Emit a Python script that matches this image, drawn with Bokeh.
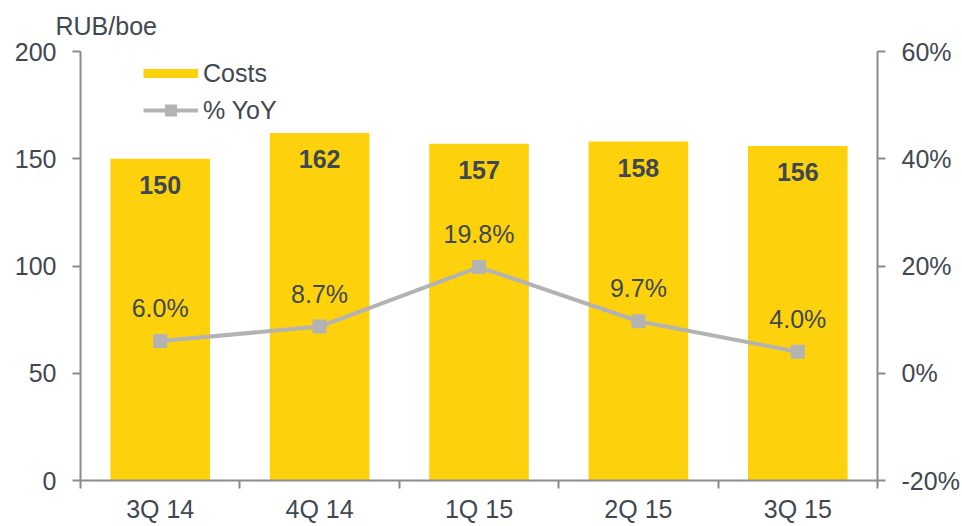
from bokeh.plotting import figure
from bokeh.models import Range1d, LinearAxis, FixedTicker, Legend, LegendItem, ColumnDataSource
from bokeh.core.properties import value
from bokeh.embed import file_html
from bokeh.resources import INLINE

categories = ["3Q 14", "4Q 14", "1Q 15", "2Q 15", "3Q 15"]
costs = [150, 162, 157, 158, 156]
yoy = [6.0, 8.7, 19.8, 9.7, 4.0]
left_ticks = [0, 50, 100, 150, 200]
right_ticks = [-20, 0, 20, 40, 60]
unit_label = "RUB/boe"

YELLOW = "#FDD20C"
GRAY = "#B3B3B3"
TEXT = "#3F4850"
AXIS = "#8C8C8C"
FONT = "Liberation Sans"
FS = "25px"

xs = [i + 0.5 for i in range(len(categories))]
src = ColumnDataSource(dict(
    x=xs, costs=costs, yoy=yoy,
    clab=[str(c) for c in costs],
    ylab=[f"{v:.1f}%" for v in yoy],
))

p = figure(width=962, height=525, x_range=Range1d(0, len(categories)), y_range=Range1d(0, 200),
           output_backend="svg", toolbar_location=None,
           min_border_left=80, min_border_right=82, min_border_top=51, min_border_bottom=44)
p.extra_y_ranges = {"pct": Range1d(-20, 60)}
p.outline_line_color = None
p.xgrid.visible = False
p.ygrid.visible = False

p.title.text = unit_label
p.title.text_font = FONT
p.title.text_font_size = FS
p.title.text_font_style = "normal"
p.title.text_color = TEXT
p.title.align = "left"
p.title.offset = -25
p.title.standoff = 20
p.title.vertical_align = "top"

# x axis
xa = p.xaxis[0]
xa.ticker = FixedTicker(ticks=xs, minor_ticks=list(range(len(categories) + 1)))
xa.major_label_overrides = {x: c for x, c in zip(xs, categories)}
xa.major_tick_line_color = None
xa.major_tick_out = 8
xa.minor_tick_line_color = AXIS
xa.minor_tick_line_width = 2
xa.minor_tick_out = 8
xa.minor_tick_in = 0
xa.axis_line_color = AXIS
xa.axis_line_width = 2
xa.major_label_text_font = FONT
xa.major_label_text_font_size = FS
xa.major_label_text_color = TEXT
xa.major_label_standoff = 6

# left axis
ya = p.yaxis[0]
ya.ticker = FixedTicker(ticks=left_ticks)
ya.axis_line_color = AXIS
ya.axis_line_width = 2
ya.major_tick_line_color = AXIS
ya.major_tick_line_width = 2
ya.major_tick_out = 8
ya.major_tick_in = 0
ya.minor_tick_line_color = None
ya.major_label_text_font = FONT
ya.major_label_text_font_size = FS
ya.major_label_text_color = TEXT
ya.major_label_standoff = 16

# right axis
ra = LinearAxis(y_range_name="pct", ticker=FixedTicker(ticks=right_ticks),
                major_label_overrides={t: f"{t}%" for t in right_ticks})
ra.axis_line_color = AXIS
ra.axis_line_width = 2
ra.major_tick_line_color = AXIS
ra.major_tick_line_width = 2
ra.major_tick_out = 8
ra.major_tick_in = 0
ra.minor_tick_line_color = None
ra.major_label_text_font = FONT
ra.major_label_text_font_size = FS
ra.major_label_text_color = TEXT
ra.major_label_standoff = 16
p.add_layout(ra, "right")

p.vbar(x="x", top="costs", width=0.625, source=src, fill_color=YELLOW, line_color=None)
r_line = p.line(x="x", y="yoy", source=src, y_range_name="pct", line_color=GRAY, line_width=4)
r_sc = p.scatter(x="x", y="yoy", source=src, y_range_name="pct", marker="square", size=14,
                 fill_color=GRAY, line_color=None)

p.text(x="x", y="costs", text="clab", source=src, text_align="center", text_baseline="middle",
       y_offset=26, text_font=value(FONT), text_font_size=FS, text_font_style="bold",
       text_color=TEXT)
p.text(x="x", y="yoy", text="ylab", source=src, y_range_name="pct", text_align="center",
       text_baseline="middle", y_offset=-33, text_font=value(FONT), text_font_size=FS,
       text_color=TEXT)

r_dummy = p.line(x=[0.0, 0.0], y=[float("nan"), float("nan")], line_color=YELLOW, line_width=9)
legend = Legend(items=[LegendItem(label="Costs", renderers=[r_dummy]),
                       LegendItem(label="% YoY", renderers=[r_line, r_sc])],
                location=(63, 355), glyph_width=55, glyph_height=30, label_height=30,
                spacing=7, padding=0, margin=0, border_line_color=None,
                background_fill_alpha=0, label_text_font=FONT, label_text_font_size=FS,
                label_text_color=TEXT, label_standoff=5)
p.add_layout(legend, "center")

open("out.html", "w").write(file_html(p, INLINE))
